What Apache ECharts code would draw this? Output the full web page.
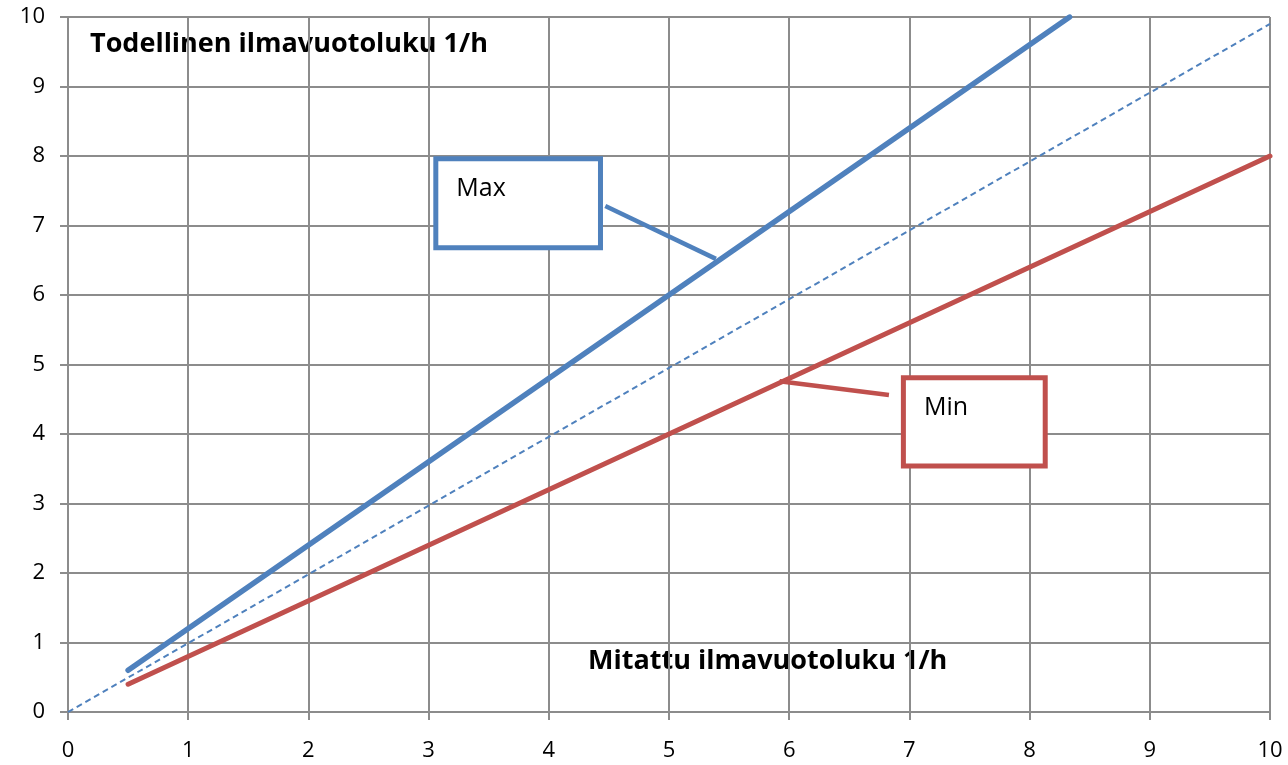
<!DOCTYPE html>
<html>
<head>
<meta charset="utf-8">
<script src="https://cdn.jsdelivr.net/npm/echarts@6/dist/echarts.min.js"></script>
<style>
  html, body { margin: 0; padding: 0; background: #fff; }
  #chart { width: 1288px; height: 765px; }
</style>
</head>
<body>
<div id="chart"></div>
<script>
    // values
    var maxLine = [[0.5, 0.6], [8.333, 10]];
    var minLine = [[0.5, 0.4], [10, 8]];
    var refLine = [[0, 0], [10, 9.9]];

    // annotation boxes and their leader lines, in data units
    var maxBox = [[3.06, 7.96], [4.43, 6.68]];
    var maxLeader = [[4.47, 7.28], [5.39, 6.52]];
    var minBox = [[6.95, 4.81], [8.13, 3.54]];
    var minLeader = [[6.83, 4.56], [5.92, 4.76]];

    var blue = '#4f81bd';
    var red = '#c0504d';
    var gridGrey = '#8c8c8c';
    var font = '"Open Sans", "Liberation Sans", sans-serif';

    var chart = echarts.init(document.getElementById('chart'));

    function boxLabel(text) {
        return {
            show: true,
            position: 'insideTopLeft',
            distance: 0,
            padding: [20, 0, 0, 23],
            color: '#000',
            fontSize: 25,
            fontFamily: font,
            formatter: text
        };
    }

    var option = {
        animation: false,
        grid: {
            left: 68,
            right: 18,
            top: 17,
            bottom: 53
        },
        xAxis: {
            type: 'value',
            min: 0,
            max: 10,
            interval: 1,
            axisLine: {lineStyle: {color: gridGrey, width: 2}},
            axisTick: {show: true, length: 8, lineStyle: {color: gridGrey, width: 2}},
            axisLabel: {color: '#000', fontSize: 22, fontFamily: font, margin: 28},
            splitLine: {show: true, lineStyle: {color: gridGrey, width: 2}}
        },
        yAxis: {
            type: 'value',
            min: 0,
            max: 10,
            interval: 1,
            axisLine: {show: true, lineStyle: {color: gridGrey, width: 2}},
            axisTick: {show: true, length: 8, lineStyle: {color: gridGrey, width: 2}},
            axisLabel: {color: '#000', fontSize: 22, fontFamily: font, margin: 23},
            splitLine: {show: true, lineStyle: {color: gridGrey, width: 2}}
        },
        series: [
            {
                name: 'Ref',
                type: 'line',
                data: refLine,
                showSymbol: false,
                lineStyle: {color: blue, width: 2, type: [6, 4]},
                z: 3
            },
            {
                name: 'Max',
                type: 'line',
                data: maxLine,
                showSymbol: false,
                lineStyle: {color: blue, width: 5.5, cap: 'round'},
                markArea: {
                    silent: true,
                    itemStyle: {color: '#fff', borderColor: blue, borderWidth: 5},
                    label: boxLabel('Max'),
                    data: [[{coord: maxBox[0]}, {coord: maxBox[1]}]]
                },
                markLine: {
                    silent: true,
                    symbol: 'none',
                    label: {show: false},
                    lineStyle: {color: blue, width: 4.5, type: 'solid'},
                    data: [[{coord: maxLeader[0]}, {coord: maxLeader[1]}]]
                },
                z: 4
            },
            {
                name: 'Min',
                type: 'line',
                data: minLine,
                showSymbol: false,
                lineStyle: {color: red, width: 5, cap: 'round'},
                markArea: {
                    silent: true,
                    itemStyle: {color: '#fff', borderColor: red, borderWidth: 5},
                    label: boxLabel('Min'),
                    data: [[{coord: minBox[0]}, {coord: minBox[1]}]]
                },
                markLine: {
                    silent: true,
                    symbol: 'none',
                    label: {show: false},
                    lineStyle: {color: red, width: 4.5, type: 'solid'},
                    data: [[{coord: minLeader[0]}, {coord: minLeader[1]}]]
                },
                z: 4
            }
        ],
        graphic: [
            {
                type: 'text',
                x: 90,
                y: 44,
                style: {
                    text: 'Todellinen ilmavuotoluku 1/h',
                    fill: '#000',
                    font: 'bold 27px ' + font,
                    verticalAlign: 'middle'
                }
            },
            {
                type: 'text',
                x: 588,
                y: 661,
                style: {
                    text: 'Mitattu ilmavuotoluku 1/h',
                    fill: '#000',
                    font: 'bold 27px ' + font,
                    verticalAlign: 'middle'
                }
            }
        ]
    };

    chart.setOption(option);
</script>
</body>
</html>
